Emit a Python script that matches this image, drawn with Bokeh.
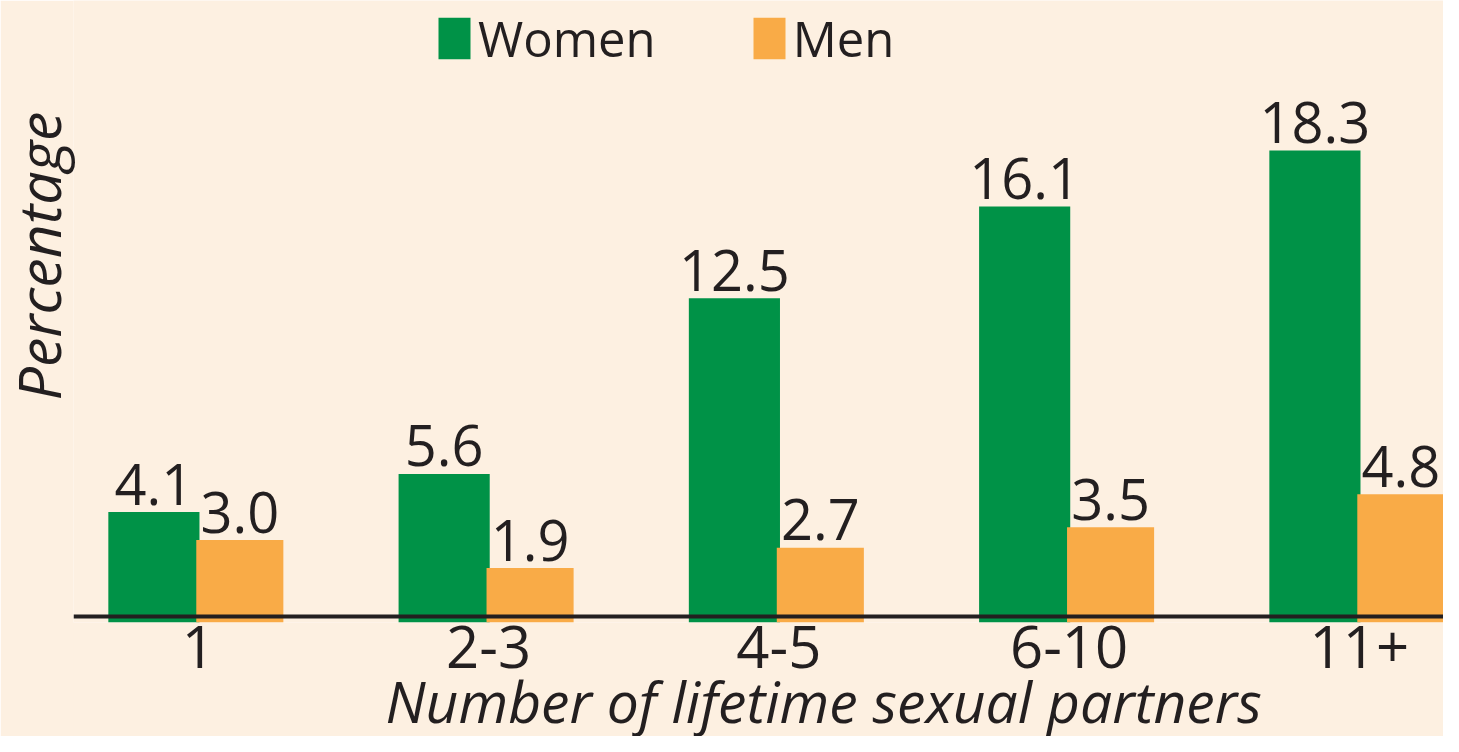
import numpy as np
from bokeh.plotting import figure
from bokeh.models import (Range1d, FixedTicker, ColumnDataSource, Span, Legend,
                          LegendItem, Title)
from bokeh.transform import dodge
from bokeh.core.properties import value
from bokeh.embed import file_html
from bokeh.resources import INLINE

# ---- data ----
categories = ["1", "2-3", "4-5", "6-10", "11+"]
women = [4.1, 5.6, 12.5, 16.1, 18.3]
men = [3.0, 1.9, 2.7, 3.5, 4.8]
series_names = ["Women", "Men"]
x_title = "Number of lifetime sexual partners"
y_title = "Percentage"

# ---- style ----
BG = "#FDF0E1"
GREEN = "#009247"
ORANGE = "#F9AB47"
INK = "#231F20"
FONT = "Open Sans"

idx = list(range(len(categories)))
src = ColumnDataSource(dict(
    idx=idx, cat=categories, women=women, men=men,
    women_lbl=[f"{v:.1f}" for v in women],
    men_lbl=[f"{v:.1f}" for v in men],
))

p = figure(width=1443, height=736, output_backend="svg", toolbar_location=None,
           x_range=Range1d(-0.43, 4.29), y_range=Range1d(-0.236, 24.19),
           background_fill_color=BG, border_fill_color=BG,
           outline_line_color=None,
           min_border_left=73, min_border_right=0, min_border_top=0,
           min_border_bottom=114)
p.grid.visible = False

W_OFF, M_OFF = -0.153, 0.143
rw = p.vbar(x=dodge("idx", W_OFF), width=0.314, top="women", bottom=-0.25,
            source=src, fill_color=GREEN, line_color=None)
rm = p.vbar(x=dodge("idx", M_OFF), width=0.30, top="men", bottom=-0.25,
            source=src, fill_color=ORANGE, line_color=None)

p.add_layout(Span(location=0, dimension="width", line_color=INK, line_width=4))

for off, col, lbl in [(W_OFF, "women", "women_lbl"), (M_OFF, "men", "men_lbl")]:
    p.text(x=dodge("idx", off), y=col, text=lbl, source=src,
           text_align="center", text_baseline="alphabetic", y_offset=-28,
           text_font=value(FONT), text_font_size="56px", text_color=INK)

legend = Legend(items=[LegendItem(label=series_names[0], renderers=[rw]),
                       LegendItem(label=series_names[1], renderers=[rm])],
                orientation="horizontal", location=(361, 551),
                glyph_width=40, glyph_height=52, label_standoff=4, spacing=93,
                padding=0, margin=0, border_line_color=None,
                background_fill_alpha=0,
                label_text_font=FONT, label_text_font_size="49px",
                label_text_color=INK)
p.add_layout(legend)

ax = p.xaxis[0]
ax.ticker = FixedTicker(ticks=idx)
ax.major_label_overrides = {i: c for i, c in zip(idx, categories)}
ax.axis_line_color = None
ax.major_tick_line_color = None
ax.minor_tick_line_color = None
ax.major_label_standoff = -3
ax.major_label_text_font = FONT
ax.major_label_text_font_size = "58px"
ax.major_label_text_color = INK
p.yaxis.visible = False

p.add_layout(Title(text=x_title, align="left", offset=312, standoff=-22,
                   text_font=FONT, text_font_style="italic",
                   text_font_size="57px", text_color=INK), "below")
p.add_layout(Title(text=y_title, align="left", offset=222, standoff=-9,
                   text_font=FONT, text_font_style="italic",
                   text_font_size="59px", text_color=INK), "left")

open("out.html", "w").write(file_html(p, INLINE))
